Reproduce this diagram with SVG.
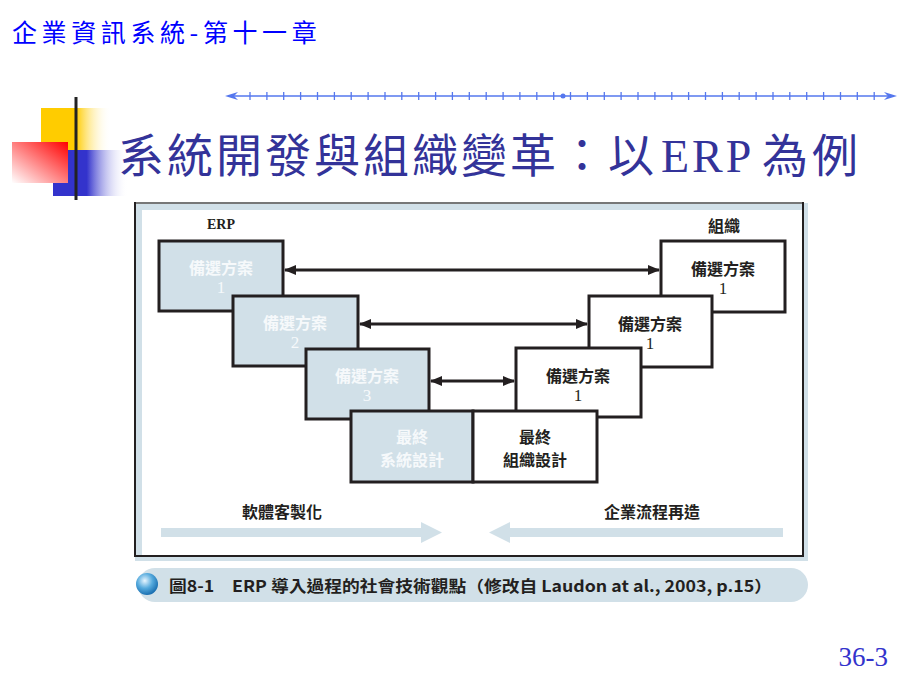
<svg xmlns="http://www.w3.org/2000/svg" width="900" height="675" viewBox="0 0 900 675">
<defs>
<style>
.cjk{font-family:"Noto Sans CJK TC","Noto Sans CJK SC",sans-serif;}
.box{stroke:#231f20;stroke-width:3;}
.erp{fill:#d1e0e8;}
.org{fill:#ffffff;}
.lt{fill:#f6f9fb;font-size:16px;font-weight:700;text-anchor:middle;}
.dk{fill:#231f20;font-size:16px;font-weight:700;text-anchor:middle;}
.num{font-family:"Liberation Serif",serif;font-size:17px;text-anchor:middle;}
.conn{stroke:#231f20;stroke-width:2.8;fill:none;}
.tick{stroke:#5577ee;stroke-width:1.3;}
</style>
<marker id="ah" viewBox="0 0 12 10" refX="11" refY="5" markerWidth="12" markerHeight="10" markerUnits="userSpaceOnUse" orient="auto-start-reverse">
<path d="M0,0 L12,5 L0,10 Z" fill="#231f20"/>
</marker>
<linearGradient id="gY" x1="0" y1="0" x2="1" y2="0">
<stop offset="0" stop-color="#ffcc00"/><stop offset="0.5" stop-color="#ffcc00"/><stop offset="1" stop-color="#ffffff" stop-opacity="0"/>
</linearGradient>
<linearGradient id="gB" x1="0" y1="0" x2="1" y2="0">
<stop offset="0" stop-color="#3333cc"/><stop offset="0.45" stop-color="#3333cc"/><stop offset="1" stop-color="#ffffff" stop-opacity="0"/>
</linearGradient>
<linearGradient id="gR" x1="1" y1="0" x2="0" y2="1">
<stop offset="0" stop-color="#ff0000"/><stop offset="1" stop-color="#ffffff"/>
</linearGradient>
<linearGradient id="gL" x1="0" y1="0" x2="1" y2="0">
<stop offset="0" stop-color="#222222"/><stop offset="0.55" stop-color="#777777"/><stop offset="1" stop-color="#ffffff"/>
</linearGradient>
<radialGradient id="gC" cx="0.4" cy="0.35" r="0.7">
<stop offset="0" stop-color="#e8f6ff"/><stop offset="0.5" stop-color="#55aadd"/><stop offset="1" stop-color="#1166aa"/>
</radialGradient>
</defs>

<rect width="900" height="675" fill="#ffffff"/>

<!-- header -->
<text x="12" y="42" class="cjk" font-size="25" letter-spacing="4.6" fill="#0000ff">企業資訊系統-第十一章</text>

<!-- ruler -->
<g id="ruler">
<line x1="228" y1="96" x2="894" y2="96" stroke="#5577ee" stroke-width="1.5"/>
<path d="M225,96 L238,92 L234,96 L238,100 Z" fill="#5577ee"/>
<path d="M897,96 L884,92 L888,96 L884,100 Z" fill="#5577ee"/>
<circle cx="563" cy="96" r="2.5" fill="#5577ee"/>
<g class="tick">
<line x1="250" y1="92" x2="250" y2="100"/><line x1="266.9" y1="92" x2="266.9" y2="100"/><line x1="283.7" y1="92" x2="283.7" y2="100"/><line x1="300.6" y1="92" x2="300.6" y2="100"/><line x1="317.5" y1="92" x2="317.5" y2="100"/><line x1="334.4" y1="92" x2="334.4" y2="100"/><line x1="351.2" y1="92" x2="351.2" y2="100"/><line x1="368.1" y1="92" x2="368.1" y2="100"/><line x1="385" y1="92" x2="385" y2="100"/><line x1="401.8" y1="92" x2="401.8" y2="100"/><line x1="418.7" y1="92" x2="418.7" y2="100"/><line x1="435.6" y1="92" x2="435.6" y2="100"/><line x1="452.4" y1="92" x2="452.4" y2="100"/><line x1="469.3" y1="92" x2="469.3" y2="100"/><line x1="486.2" y1="92" x2="486.2" y2="100"/><line x1="503.1" y1="92" x2="503.1" y2="100"/><line x1="519.9" y1="92" x2="519.9" y2="100"/><line x1="536.8" y1="92" x2="536.8" y2="100"/><line x1="553.7" y1="92" x2="553.7" y2="100"/><line x1="570.5" y1="92" x2="570.5" y2="100"/><line x1="587.4" y1="92" x2="587.4" y2="100"/><line x1="604.3" y1="92" x2="604.3" y2="100"/><line x1="621.1" y1="92" x2="621.1" y2="100"/><line x1="638" y1="92" x2="638" y2="100"/><line x1="654.9" y1="92" x2="654.9" y2="100"/><line x1="671.8" y1="92" x2="671.8" y2="100"/><line x1="688.6" y1="92" x2="688.6" y2="100"/><line x1="705.5" y1="92" x2="705.5" y2="100"/><line x1="722.4" y1="92" x2="722.4" y2="100"/><line x1="739.2" y1="92" x2="739.2" y2="100"/><line x1="756.1" y1="92" x2="756.1" y2="100"/><line x1="773" y1="92" x2="773" y2="100"/><line x1="789.8" y1="92" x2="789.8" y2="100"/><line x1="806.7" y1="92" x2="806.7" y2="100"/><line x1="823.6" y1="92" x2="823.6" y2="100"/><line x1="840.5" y1="92" x2="840.5" y2="100"/><line x1="857.3" y1="92" x2="857.3" y2="100"/><line x1="874.2" y1="92" x2="874.2" y2="100"/>
</g>
</g>

<!-- decoration -->
<g id="deco">
<rect x="41" y="108" width="70" height="42" fill="url(#gY)"/>
<rect x="53" y="150" width="75" height="46" fill="url(#gB)"/>
<rect x="12" y="142" width="56" height="41" fill="url(#gR)"/>
<line x1="76" y1="97" x2="76" y2="200" stroke="#222222" stroke-width="3"/>
<line x1="44" y1="176" x2="770" y2="176" stroke="url(#gL)" stroke-width="3"/>
</g>

<!-- title -->
<text y="172" font-size="46" letter-spacing="3" fill="#333399" font-weight="400" class="cjk"><tspan x="118">系統開發與組織變革：以</tspan><tspan font-family="Liberation Serif,serif" x="661">ERP</tspan><tspan x="762">為</tspan><tspan x="812">例</tspan></text>

<!-- frame -->
<g id="frame">
<rect x="135" y="203" width="673" height="358" fill="#d1e0e8"/>
<rect x="142" y="210" width="661" height="346" fill="#ffffff"/>
<line x1="135" y1="203" x2="803" y2="203" stroke="#777777" stroke-width="2"/>
<path d="M135,202 L135,556 L803,556 L803,202" fill="none" stroke="#231f20" stroke-width="2"/>
</g>

<text x="221" y="229" font-family="Liberation Serif,serif" font-size="14" font-weight="700" fill="#231f20" text-anchor="middle">ERP</text>
<text x="724" y="232" class="cjk dk" font-size="15">組織</text>

<!-- connectors -->
<g id="connectors">
<line class="conn" x1="285" y1="270" x2="659" y2="270" marker-start="url(#ah)" marker-end="url(#ah)"/>
<line class="conn" x1="360" y1="324" x2="587" y2="324" marker-start="url(#ah)" marker-end="url(#ah)"/>
<line class="conn" x1="431" y1="381" x2="514" y2="381" marker-start="url(#ah)" marker-end="url(#ah)"/>
</g>

<!-- ERP side -->
<g id="erp1">
<rect class="box erp" x="159" y="241" width="124" height="70"/>
<text x="221" y="274" class="cjk lt">備選方案</text>
<text x="221" y="293" class="num" fill="#f6f9fb">1</text>
</g>
<g id="erp2">
<rect class="box erp" x="233" y="296" width="125" height="70"/>
<text x="295" y="329" class="cjk lt">備選方案</text>
<text x="295" y="348" class="num" fill="#f6f9fb">2</text>
</g>
<g id="erp3">
<rect class="box erp" x="306" y="349" width="123" height="70"/>
<text x="367" y="382" class="cjk lt">備選方案</text>
<text x="367" y="401" class="num" fill="#f6f9fb">3</text>
</g>

<!-- Org side -->
<g id="org1">
<rect class="box org" x="661" y="241" width="124" height="71"/>
<text x="723" y="275" class="cjk dk">備選方案</text>
<text x="723" y="294" class="num" fill="#231f20">1</text>
</g>
<g id="org2">
<rect class="box org" x="589" y="296" width="123" height="71"/>
<text x="650" y="330" class="cjk dk">備選方案</text>
<text x="650" y="349" class="num" fill="#231f20">1</text>
</g>
<g id="org3">
<rect class="box org" x="516" y="348" width="125" height="69"/>
<text x="578" y="382" class="cjk dk">備選方案</text>
<text x="578" y="401" class="num" fill="#231f20">1</text>
</g>

<!-- final design -->
<g id="final-system">
<rect class="box erp" x="351" y="411" width="122" height="71"/>
<text x="412" y="443" class="cjk lt">最終</text>
<text x="412" y="466" class="cjk lt">系統設計</text>
</g>
<g id="final-org">
<rect class="box org" x="473" y="411" width="124" height="71"/>
<text x="535" y="443" class="cjk dk">最終</text>
<text x="535" y="466" class="cjk dk">組織設計</text>
</g>

<!-- bottom arrows -->
<g id="customization">
<text x="282" y="518" class="cjk" font-size="16" font-weight="700" fill="#231f20" text-anchor="middle">軟體客製化</text>
<path d="M161,528 L421,528 L421,522 L442,532.5 L421,543 L421,537 L161,537 Z" fill="#d1e0e8"/>
</g>
<g id="bpr">
<text x="652" y="518" class="cjk" font-size="16" font-weight="700" fill="#231f20" text-anchor="middle">企業流程再造</text>
<path d="M489,532.5 L510,522 L510,528 L783,528 L783,537 L510,537 L510,543 Z" fill="#d1e0e8"/>
</g>

<!-- caption -->
<g id="caption">
<rect x="138" y="568" width="670" height="34" rx="17" fill="#d1e0e8"/>
<circle cx="147" cy="584" r="11" fill="url(#gC)"/>
<text x="169" y="592" class="cjk" font-size="16" font-weight="700" fill="#231f20" textLength="603" lengthAdjust="spacingAndGlyphs">圖8-1　ERP 導入過程的社會技術觀點（修改自 Laudon at al., 2003, p.15）</text>
</g>

<!-- page number -->
<text x="888" y="666" font-family="Liberation Serif,serif" font-size="27" fill="#3333cc" text-anchor="end">36-3</text>
</svg>
